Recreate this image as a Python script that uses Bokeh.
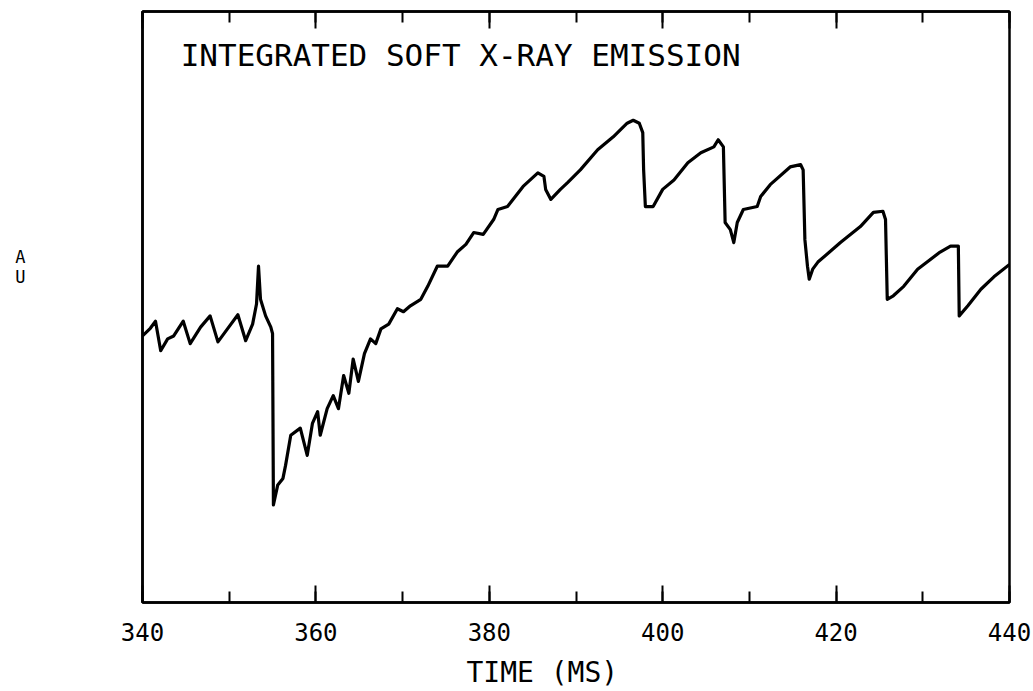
from bokeh.plotting import figure
from bokeh.models import Range1d, LinearAxis, SingleIntervalTicker, ColumnDataSource
from bokeh.core.properties import value
from bokeh.embed import file_html
from bokeh.resources import INLINE

# ---- data ----
time_ms = [340.0, 340.9, 341.5, 342.1, 342.9, 343.6, 344.7, 345.5, 346.7, 347.8,
           348.7, 349.8, 351.0, 351.9, 352.7, 353.15, 353.38, 353.61, 354.2, 354.8,
           355.0, 355.1, 355.6, 356.2, 356.5, 357.1, 358.2, 359.0, 359.6, 360.2,
           360.5, 361.3, 362.0, 362.6, 363.2, 363.8, 364.3, 364.9, 365.6, 366.3,
           366.9, 367.5, 368.4, 369.4, 370.1, 370.9, 372.1, 372.9, 374.0, 375.2,
           376.3, 377.3, 378.2, 379.3, 380.5, 381.0, 382.1, 383.0, 383.9, 385.6,
           386.3, 386.5, 387.1, 388.2, 389.0, 390.5, 392.5, 394.3, 395.9, 396.6,
           397.3, 397.7, 397.8, 398.0, 398.9, 400.0, 401.3, 402.9, 404.4, 405.9,
           406.4, 407.0, 407.2, 407.8, 408.2, 408.6, 409.3, 410.9, 411.3, 412.4,
           414.7, 415.9, 416.2, 416.4, 416.7, 416.9, 417.3, 417.9, 420.5, 422.8,
           424.3, 425.4, 425.7, 425.9, 426.6, 427.8, 429.4, 432.0, 433.2, 434.1,
           434.2, 435.2, 436.7, 438.2, 440.0]
signal_au = [45.1, 46.4, 47.6, 42.6, 44.6, 45.1, 47.6, 43.8, 46.6, 48.5,
             44.1, 46.3, 48.7, 44.3, 47.1, 50.5, 56.9, 51.3, 48.5, 46.6,
             45.5, 16.5, 19.9, 21.0, 23.2, 28.3, 29.5, 24.9, 30.3, 32.3,
             28.3, 32.8, 35.0, 32.8, 38.4, 35.4, 41.2, 37.4, 42.1, 44.6,
             43.8, 46.3, 47.1, 49.7, 49.2, 50.2, 51.3, 53.5, 56.9, 56.9,
             59.3, 60.6, 62.6, 62.3, 64.8, 66.5, 67.0, 68.7, 70.4, 72.7,
             72.1, 69.9, 68.2, 69.9, 71.0, 73.2, 76.6, 78.8, 81.1, 81.6,
             81.1, 79.5, 73.2, 67.0, 67.0, 69.9, 71.5, 74.4, 76.1, 77.1,
             78.3, 77.1, 64.3, 63.1, 60.9, 64.3, 66.5, 67.0, 68.7, 70.7,
             73.7, 74.1, 73.2, 61.4, 56.9, 54.7, 56.4, 57.6, 60.9, 63.6,
             66.0, 66.2, 64.8, 51.3, 51.9, 53.5, 56.4, 59.3, 60.3, 60.3,
             48.5, 50.2, 53.0, 55.1, 57.2]
x_start, x_end = 340, 440
y_start, y_end = 0, 100
tick_interval = 20
title_text = "INTEGRATED SOFT X-RAY EMISSION"
title_pos = [344.4, 92.6]
x_label = "TIME (MS)" + "\u00a0" * 4
y_label = "A\nU\n\u00a0\n\u00a0\n\u00a0\n\u00a0"

FONT = "DejaVu Sans Mono"

p = figure(width=1033, height=691, output_backend="svg", toolbar_location=None,
           x_range=Range1d(x_start, x_end), y_range=Range1d(y_start, y_end),
           x_axis_location=None, y_axis_location=None,
           min_border_left=142, min_border_right=24, min_border_top=11,
           min_border_bottom=86)
p.grid.visible = False
p.outline_line_color = "black"
p.outline_line_width = 2.5
p.background_fill_color = "white"
p.border_fill_color = "white"

src = ColumnDataSource(dict(t=time_ms, v=signal_au))
p.line("t", "v", source=src, line_color="black", line_width=3.2, line_join="round")

p.text(x=[title_pos[0]], y=[title_pos[1]], text=[title_text],
       text_font=value(FONT), text_font_size="31px", text_color="black",
       text_align="left", text_baseline="middle")


def hide_labels(ax):
    ax.major_label_text_color = None
    ax.major_label_text_font_size = "1px"
    ax.major_label_standoff = 0


def style_x(ax, labels):
    ax.major_tick_in = 17
    ax.major_tick_out = 0
    ax.minor_tick_in = 11
    ax.minor_tick_out = 0
    ax.major_tick_line_width = 2
    ax.minor_tick_line_width = 2
    ax.axis_line_width = 2.5
    ax.axis_line_color = "black"
    ax.major_tick_line_color = "black"
    ax.minor_tick_line_color = "black"
    if labels:
        ax.major_label_text_font = FONT
        ax.major_label_text_font_size = "24px"
        ax.major_label_text_color = "black"
        ax.major_label_standoff = 20
    else:
        hide_labels(ax)


xb = LinearAxis(ticker=SingleIntervalTicker(interval=tick_interval, num_minor_ticks=2),
                axis_label=x_label)
style_x(xb, True)
xb.axis_label_text_font = FONT
xb.axis_label_text_font_size = "28px"
xb.axis_label_text_font_style = "normal"
xb.axis_label_text_color = "black"
xb.axis_label_text_line_height = 0.5
xb.axis_label_standoff = 12
p.add_layout(xb, "below")

xt = LinearAxis(ticker=SingleIntervalTicker(interval=tick_interval, num_minor_ticks=2))
style_x(xt, False)
p.add_layout(xt, "above")

yl = LinearAxis(axis_label=y_label)
yl.major_tick_in = 0
yl.major_tick_out = 0
yl.minor_tick_in = 0
yl.minor_tick_out = 0
yl.major_tick_line_color = None
yl.minor_tick_line_color = None
hide_labels(yl)
yl.axis_line_color = "black"
yl.axis_line_width = 2.5
yl.axis_label_orientation = "horizontal"
yl.axis_label_text_font = FONT
yl.axis_label_text_font_size = "17px"
yl.axis_label_text_line_height = 1.0
yl.axis_label_text_font_style = "normal"
yl.axis_label_text_color = "black"
yl.axis_label_standoff = 117
p.add_layout(yl, "left")

open("out.html", "w").write(file_html(p, INLINE))
